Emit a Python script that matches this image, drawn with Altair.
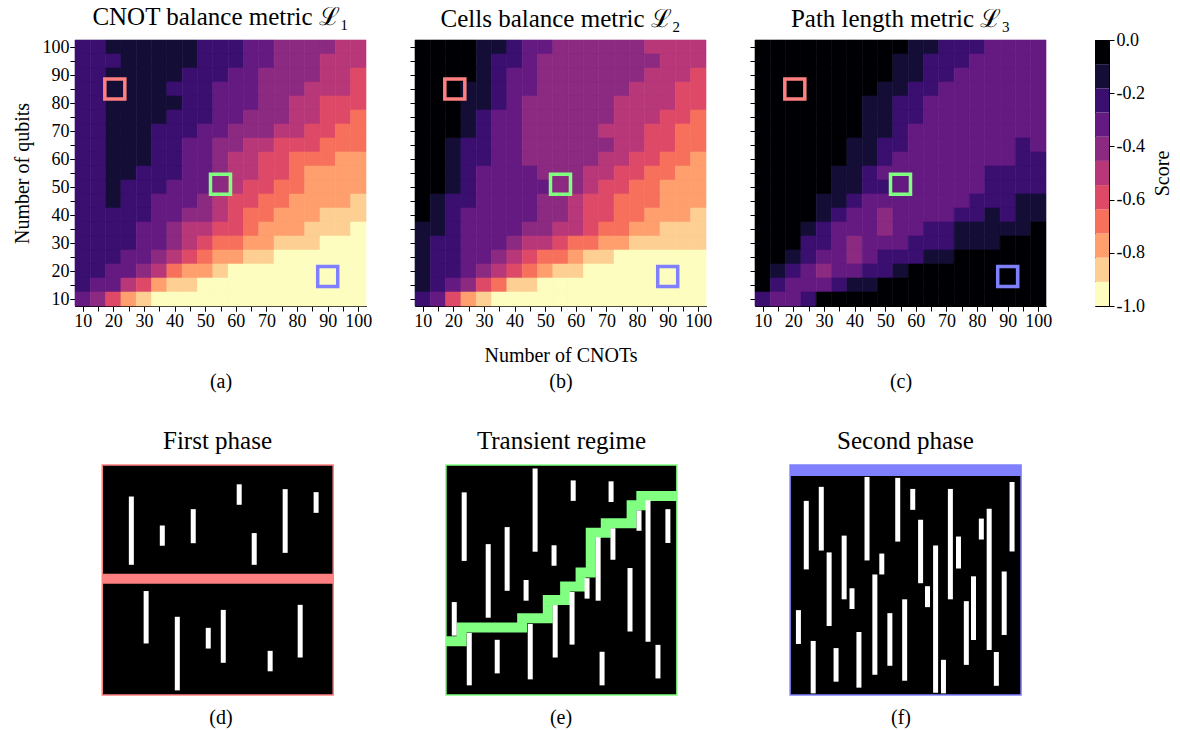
import altair as alt
import pandas as pd

FONT = "Liberation Serif"

CNOTS = list(range(10, 101, 5))          # x categories (number of CNOTs)
QUBITS = list(range(100, 9, -5))         # y categories, top row first
TEN_TICKS = list(range(10, 101, 10))     # labelled ticks
MAGMA11 = ["#000004", "#140e36", "#3b0f70", "#641a80", "#8c2981", "#b73779",
           "#de4968", "#f7705c", "#fe9f6d", "#fecf92", "#fcfdbf"]

# Score levels: score = -level / 10 (rows: qubits 100 -> 10)
L1_LEVELS = [
    [2, 2, 1, 1, 1, 1, 1, 1, 2, 2, 2, 3, 3, 4, 4, 4, 4, 5, 5],
    [2, 2, 2, 1, 1, 1, 1, 1, 2, 2, 2, 3, 3, 4, 4, 4, 5, 5, 5],
    [2, 2, 1, 1, 1, 1, 1, 2, 2, 2, 3, 3, 4, 4, 4, 4, 5, 5, 6],
    [2, 2, 1, 1, 1, 1, 2, 2, 2, 3, 3, 3, 4, 4, 4, 5, 5, 5, 6],
    [2, 2, 1, 1, 1, 1, 1, 2, 2, 3, 3, 3, 4, 4, 5, 5, 6, 6, 6],
    [2, 2, 1, 1, 1, 1, 2, 2, 2, 3, 3, 4, 4, 4, 5, 5, 6, 6, 7],
    [2, 2, 1, 1, 1, 2, 2, 2, 3, 3, 4, 4, 4, 5, 5, 6, 6, 7, 7],
    [2, 2, 1, 1, 1, 2, 2, 3, 3, 4, 4, 5, 5, 6, 6, 6, 7, 7, 7],
    [2, 2, 1, 1, 1, 2, 2, 3, 3, 4, 5, 5, 6, 6, 7, 7, 7, 8, 8],
    [2, 2, 1, 1, 2, 2, 2, 3, 3, 4, 5, 5, 6, 6, 7, 8, 8, 8, 8],
    [2, 2, 1, 2, 2, 2, 3, 3, 3, 4, 5, 6, 6, 7, 7, 8, 8, 8, 8],
    [2, 2, 1, 2, 2, 3, 3, 3, 4, 5, 6, 6, 7, 7, 8, 8, 8, 8, 9],
    [2, 2, 2, 2, 2, 3, 3, 4, 4, 5, 6, 7, 7, 8, 8, 8, 9, 9, 9],
    [2, 2, 2, 2, 3, 3, 4, 5, 5, 6, 6, 7, 8, 8, 8, 9, 9, 9, 10],
    [2, 2, 2, 2, 3, 3, 4, 5, 6, 7, 7, 8, 8, 9, 9, 9, 10, 10, 10],
    [2, 2, 2, 3, 3, 4, 5, 6, 7, 8, 8, 9, 9, 10, 10, 10, 10, 10, 10],
    [2, 2, 3, 3, 4, 5, 7, 8, 8, 9, 10, 10, 10, 10, 10, 10, 10, 10, 10],
    [2, 3, 3, 5, 6, 8, 9, 9, 10, 10, 10, 10, 10, 10, 10, 10, 10, 10, 10],
    [3, 4, 6, 8, 9, 10, 10, 10, 10, 10, 10, 10, 10, 10, 10, 10, 10, 10, 10],
]
L2_LEVELS = [
    [0, 0, 0, 0, 1, 1, 2, 3, 3, 4, 4, 4, 4, 4, 4, 5, 5, 5, 5],
    [0, 0, 0, 0, 1, 2, 2, 3, 4, 4, 4, 4, 4, 4, 4, 4, 5, 5, 5],
    [0, 0, 0, 0, 1, 2, 3, 3, 4, 4, 4, 4, 4, 4, 4, 5, 5, 5, 6],
    [0, 0, 0, 1, 1, 2, 3, 3, 4, 4, 4, 4, 4, 4, 5, 5, 5, 6, 6],
    [0, 0, 0, 1, 1, 2, 3, 4, 4, 4, 4, 4, 4, 5, 5, 5, 5, 6, 6],
    [0, 0, 0, 1, 2, 3, 3, 4, 4, 4, 4, 4, 4, 5, 5, 5, 6, 6, 7],
    [0, 0, 0, 1, 2, 3, 3, 4, 4, 4, 4, 4, 5, 5, 5, 6, 6, 7, 7],
    [0, 0, 1, 2, 2, 3, 3, 4, 4, 4, 4, 4, 4, 5, 5, 6, 6, 7, 7],
    [0, 0, 1, 2, 2, 3, 3, 4, 4, 4, 4, 4, 5, 5, 6, 6, 7, 7, 8],
    [0, 0, 1, 2, 3, 3, 3, 3, 4, 4, 4, 5, 5, 6, 6, 7, 7, 8, 8],
    [0, 0, 1, 2, 3, 3, 3, 3, 3, 4, 4, 5, 6, 6, 7, 7, 8, 8, 8],
    [0, 1, 2, 2, 3, 3, 3, 3, 4, 4, 5, 6, 6, 7, 7, 7, 8, 8, 8],
    [0, 1, 2, 3, 3, 3, 3, 3, 4, 4, 5, 6, 6, 7, 7, 8, 8, 8, 9],
    [1, 1, 2, 3, 3, 3, 3, 4, 4, 5, 5, 6, 7, 7, 8, 8, 9, 9, 9],
    [1, 2, 2, 3, 3, 3, 4, 5, 5, 6, 7, 7, 8, 8, 9, 9, 9, 9, 9],
    [1, 2, 2, 3, 3, 4, 5, 6, 7, 7, 8, 9, 9, 10, 10, 10, 10, 10, 10],
    [1, 2, 2, 3, 4, 5, 6, 7, 8, 9, 9, 10, 10, 10, 10, 10, 10, 10, 10],
    [1, 2, 3, 4, 6, 7, 9, 9, 10, 10, 10, 10, 10, 10, 10, 10, 10, 10, 10],
    [2, 3, 6, 8, 9, 10, 10, 10, 10, 10, 10, 10, 10, 10, 10, 10, 10, 10, 10],
]
L3_LEVELS = [
    [0, 0, 0, 0, 0, 0, 0, 0, 0, 0, 1, 1, 2, 2, 2, 3, 3, 3, 3],
    [0, 0, 0, 0, 0, 0, 0, 0, 0, 1, 1, 2, 2, 2, 3, 3, 3, 3, 3],
    [0, 0, 0, 0, 0, 0, 0, 0, 0, 1, 1, 2, 2, 3, 3, 3, 3, 3, 3],
    [0, 0, 0, 0, 0, 0, 0, 0, 1, 1, 2, 2, 3, 3, 3, 3, 3, 3, 3],
    [0, 0, 0, 0, 0, 0, 0, 1, 1, 2, 2, 3, 3, 3, 3, 3, 3, 3, 3],
    [0, 0, 0, 0, 0, 0, 0, 1, 1, 2, 2, 3, 3, 3, 3, 3, 3, 3, 3],
    [0, 0, 0, 0, 0, 0, 0, 1, 1, 2, 3, 3, 3, 3, 3, 3, 3, 3, 3],
    [0, 0, 0, 0, 0, 0, 1, 1, 2, 2, 3, 3, 3, 3, 3, 3, 3, 2, 3],
    [0, 0, 0, 0, 0, 0, 1, 1, 2, 3, 3, 3, 3, 3, 3, 3, 3, 2, 2],
    [0, 0, 0, 0, 0, 1, 1, 2, 3, 3, 3, 3, 3, 3, 3, 2, 2, 2, 2],
    [0, 0, 0, 0, 0, 1, 1, 2, 2, 3, 3, 3, 3, 3, 3, 2, 2, 2, 2],
    [0, 0, 0, 0, 1, 1, 2, 3, 3, 3, 3, 3, 3, 3, 2, 2, 2, 1, 1],
    [0, 0, 0, 0, 1, 2, 3, 3, 4, 3, 3, 3, 3, 2, 2, 1, 2, 1, 1],
    [0, 0, 0, 1, 2, 3, 3, 3, 4, 3, 3, 2, 2, 1, 1, 1, 1, 1, 0],
    [0, 0, 0, 2, 2, 3, 4, 3, 3, 3, 2, 2, 2, 1, 1, 1, 0, 0, 0],
    [0, 0, 1, 2, 3, 3, 4, 3, 2, 2, 2, 1, 1, 0, 0, 0, 0, 0, 0],
    [0, 1, 2, 3, 4, 3, 3, 2, 2, 1, 0, 0, 0, 0, 0, 0, 0, 0, 0],
    [0, 2, 3, 3, 3, 2, 1, 1, 0, 0, 0, 0, 0, 0, 0, 0, 0, 0, 0],
    [2, 3, 3, 2, 0, 0, 0, 0, 0, 0, 0, 0, 0, 0, 0, 0, 0, 0, 0],
]

HEAT_TITLES = ["CNOT balance metric ℒ₁", "Cells balance metric ℒ₂", "Path length metric ℒ₃"]
HEAT_XTITLES = [["", "(a)"], ["Number of CNOTs", "(b)"], ["", "(c)"]]

# highlighted regimes (CNOTs, qubits)
MARK_X = [20.5, 55, 90]
MARK_Y = [85, 51, 18]
MARK_COLORS = ["#ff8080", "#80ff80", "#8080ff"]

# colorbar
CBAR_TICKS = [0.0, -0.2, -0.4, -0.6, -0.8, -1.0]

# ---- schematic panels (coordinates in % of the square) ----
D_BAR_X = [12.6, 26.0, 39.4, 59.3, 65.8, 79.2, 92.6, 19.0, 32.5, 45.9, 52.4, 72.7, 85.7]
D_BAR_TOP = [86.3, 73.7, 80.8, 91.6, 70.4, 89.5, 88.2, 45.2, 34.0, 29.2, 37.0, 19.2, 39.2]
D_BAR_BOT = [56.6, 64.9, 66.0, 82.7, 56.6, 61.8, 79.2, 22.4, 2.0, 20.2, 14.0, 10.3, 16.3]
D_BAND = [48.4, 52.7]      # horizontal cut (lower, upper edge)

E_BAR_X = [7.9, 3.6, 10.1, 18.3, 22.2, 26.5, 34.7, 38.6, 36.5, 46.8, 47.3, 54.6,
           55.1, 61.1, 65.9, 67.6, 71.5, 72.3, 79.7, 83.6, 87.5, 91.8, 96.1]
E_BAR_TOP = [88.1, 40.4, 27.0, 65.6, 24.0, 73.0, 50.0, 98.5, 30.9, 65.1, 39.1, 44.8,
             93.3, 50.8, 68.6, 18.8, 92.9, 72.5, 55.2, 80.3, 84.7, 21.8, 80.8]
E_BAR_BOT = [58.3, 25.8, 4.2, 33.6, 9.4, 45.3, 41.0, 62.3, 6.8, 56.2, 16.3, 21.9,
             84.4, 41.9, 41.0, 4.2, 83.9, 58.8, 27.6, 71.4, 23.2, 7.2, 66.1]
E_PATH_X = [0, 6.8, 6.8, 33.0, 33.0, 44.1, 44.1, 51.6, 51.6, 58.3, 58.3, 62.7, 62.7,
            69.2, 69.2, 80.4, 80.4, 84.6, 84.6, 100]
E_PATH_Y = [23.4, 23.4, 29.3, 29.3, 33.4, 33.4, 41.3, 41.3, 47.2, 47.2, 53.3, 53.3, 70.5,
            70.5, 74.7, 74.7, 82.5, 82.5, 86.5, 86.5]

F_BAR_X = [7.0, 13.5, 3.6, 16.9, 10.0, 23.4, 26.8, 19.9, 33.3, 29.8, 39.7, 36.7, 43.2,
           46.6, 53.1, 49.6, 56.5, 59.5, 63.0, 66.4, 69.4, 72.9, 76.3, 79.4, 82.8,
           86.2, 89.3, 92.7, 96.1]
F_BAR_TOP = [84.4, 90.5, 36.9, 62.0, 23.5, 69.3, 46.4, 20.4, 94.8, 27.4, 61.5, 52.4, 35.6,
             94.4, 89.6, 41.6, 76.2, 47.3, 65.0, 15.3, 89.6, 68.9, 40.8, 51.6, 76.7,
             81.0, 18.7, 53.7, 92.6]
F_BAR_BOT = [54.6, 62.8, 22.2, 30.0, 0.7, 41.6, 37.4, 5.8, 58.5, 3.2, 52.4, 8.8, 12.7,
             66.7, 80.5, 6.2, 48.6, 38.2, 1.0, 0.7, 41.6, 55.0, 13.1, 23.9, 67.6,
             19.6, 4.0, 26.1, 62.4]
F_BAND = [95.2, 100.0]     # cut along the top edge

PHASE_TITLES = ["First phase", "Transient regime", "Second phase"]
PHASE_LABELS = ["(d)", "(e)", "(f)"]

# ---------------------------------------------------------------
color_scale = alt.Scale(type="quantize", domain=[-1, 0], nice=False, range=MAGMA11[::-1])
HW, HH = 291, 266
LAB = 18
TIT = 20


def heat_df(levels):
    rows = []
    for j, q in enumerate(QUBITS):
        for i, c in enumerate(CNOTS):
            rows.append({"cnots": c, "qubits": q, "score": -levels[j][i] / 10})
    return pd.DataFrame(rows)


def heatmap(levels, title, xtitle, first):
    sc = alt.Scale(domain=[7.5, 102.5], nice=False, zero=False)
    # axes carrying the minor ticks (every 5)
    x_ticks = alt.Axis(values=CNOTS, labels=False, title=None, orient="bottom")
    y_ticks = alt.Axis(values=CNOTS, labels=False, title=None, orient="left")
    # axes carrying the labels (every 10)
    x_labs = alt.Axis(values=TEN_TICKS, orient="bottom", title=xtitle, labelOverlap=False,
                      labelFlush=False, labelFontSize=LAB, labelPadding=1, titlePadding=15,
                      titleLineHeight=26, titleFontSize=TIT)
    if first:
        y_labs = alt.Axis(values=TEN_TICKS, orient="left", title="Number of qubits",
                          labelOverlap=False, labelFlush=False, labelFontSize=LAB,
                          labelPadding=1, titlePadding=10, titleFontSize=TIT)
    else:
        y_labs = None
    rect = alt.Chart(heat_df(levels)).transform_calculate(
        x0="datum.cnots - 2.5", x1="datum.cnots + 2.5",
        y0="datum.qubits - 2.5", y1="datum.qubits + 2.5",
    ).mark_rect(strokeWidth=0.6).encode(
        x=alt.X("x0:Q", scale=sc, axis=x_ticks),
        x2="x1:Q",
        y=alt.Y("y0:Q", scale=sc, axis=y_ticks),
        y2="y1:Q",
        color=alt.Color("score:Q", scale=color_scale, legend=None),
        stroke=alt.Stroke("score:Q", scale=color_scale, legend=None),
    )
    mdf = pd.DataFrame({"x": MARK_X, "y": MARK_Y, "c": MARK_COLORS})
    marks = alt.Chart(mdf).mark_point(shape="square", filled=False, size=400, strokeWidth=3.5,
                                      opacity=1).encode(
        x=alt.X("x:Q", scale=sc, axis=x_labs),
        y=alt.Y("y:Q", scale=sc, axis=y_labs),
        color=alt.Color("c:N", scale=None),
    )
    return alt.layer(rect, marks).resolve_axis(x="independent", y="independent").properties(
        width=HW, height=HH, title=alt.TitleParams(title, offset=8))


def colorbar():
    n = len(MAGMA11)
    df = pd.DataFrame({
        "lo": [-1 + i / n for i in range(n)],
        "hi": [-1 + (i + 1) / n for i in range(n)],
    })
    df["mid"] = (df["lo"] + df["hi"]) / 2
    return alt.Chart(df).mark_rect().encode(
        y=alt.Y("lo:Q", scale=alt.Scale(domain=[-1, 0], nice=False, zero=False),
                axis=alt.Axis(orient="right", values=CBAR_TICKS,
                              labelExpr="replace(format(datum.value, '.1f'), '\u2212', '-')",
                              title="Score", titleAngle=270, titleBaseline="top",
                              titlePadding=8, titleFontSize=TIT, labelFontSize=LAB,
                              labelPadding=2, labelFlush=False, labelOverlap=False)),
        y2="hi:Q",
        color=alt.Color("mid:Q", scale=color_scale, legend=None),
    ).properties(width=14, height=HH, view=alt.ViewBackground(stroke="black", strokeWidth=1))


def phase_panel(bx, btop, bbot, col, title, label, xdom, tdx, band=None, path=None):
    xs = alt.Scale(domain=xdom, nice=False, zero=False)
    ys = alt.Scale(domain=[0, 100], nice=False, zero=False)
    box = alt.Chart(pd.DataFrame({"x0": [0], "x1": [100], "y0": [0], "y1": [100]})).mark_rect(
        fill="black", stroke=col, strokeWidth=1.5).encode(
        x=alt.X("x0:Q", scale=xs, axis=alt.Axis(title=label, domain=False, ticks=False,
                                                labels=False, grid=False, titlePadding=12,
                                                titleFontSize=TIT)),
        x2="x1:Q",
        y=alt.Y("y0:Q", scale=ys, axis=None),
        y2="y1:Q",
    )
    layers = [box]
    if band is not None:
        layers.append(alt.Chart(pd.DataFrame({"x0": [0], "x1": [100], "y0": [band[0]],
                                              "y1": [band[1]]})).mark_rect(fill=col).encode(
            x=alt.X("x0:Q", scale=xs), x2="x1:Q", y=alt.Y("y0:Q", scale=ys), y2="y1:Q"))
    if path is not None:
        px, py = path
        layers.append(alt.Chart(pd.DataFrame({"u": px, "v": py, "k": list(range(len(px)))}))
                      .mark_line(color=col, strokeWidth=10, strokeJoin="miter", strokeCap="butt")
                      .encode(x=alt.X("u:Q", scale=xs), y=alt.Y("v:Q", scale=ys), order="k:Q"))
    layers.append(alt.Chart(pd.DataFrame({"u": bx, "t": btop, "b": bbot})).mark_rule(
        color="white", strokeWidth=5, strokeCap="butt").encode(
        x=alt.X("u:Q", scale=xs), y=alt.Y("b:Q", scale=ys), y2="t:Q"))
    return alt.layer(*layers).properties(
        width=HW, height=230, title=alt.TitleParams(title, offset=10, dx=tdx))


a = heatmap(L1_LEVELS, HEAT_TITLES[0], HEAT_XTITLES[0], True)
b = heatmap(L2_LEVELS, HEAT_TITLES[1], HEAT_XTITLES[1], False)
c = heatmap(L3_LEVELS, HEAT_TITLES[2], HEAT_XTITLES[2], False)
cb = colorbar()
d = phase_panel(D_BAR_X, D_BAR_TOP, D_BAR_BOT, MARK_COLORS[0], PHASE_TITLES[0],
                PHASE_LABELS[0], [-11.8, 114.2], -3, band=D_BAND)
e = phase_panel(E_BAR_X, E_BAR_TOP, E_BAR_BOT, MARK_COLORS[1], PHASE_TITLES[1],
                PHASE_LABELS[1], [-13.4, 112.6], 1, path=(E_PATH_X, E_PATH_Y))
f = phase_panel(F_BAR_X, F_BAR_TOP, F_BAR_BOT, MARK_COLORS[2], PHASE_TITLES[2],
                PHASE_LABELS[2], [-15.2, 110.8], 5, band=F_BAND)

chart = alt.concat(a, b, c, cb, d, e, f, columns=4,
                   spacing=alt.RowColnumber(row=159, column=49),
                   bounds="flush", align="each").properties(
    padding={"left": 12, "top": 4, "right": 5, "bottom": 5}
).configure_view(strokeWidth=0).configure_title(
    font=FONT, fontSize=25, fontWeight="normal", color="black"
).configure_axis(
    labelFont=FONT, titleFont=FONT, labelFontSize=LAB, titleFontSize=TIT,
    titleFontWeight="normal", labelColor="black", titleColor="black",
    tickColor="black", domainColor="black", tickSize=5, grid=False, labelPadding=3,
)

chart.save("out.html", embed_options={"renderer": "svg", "actions": False})
